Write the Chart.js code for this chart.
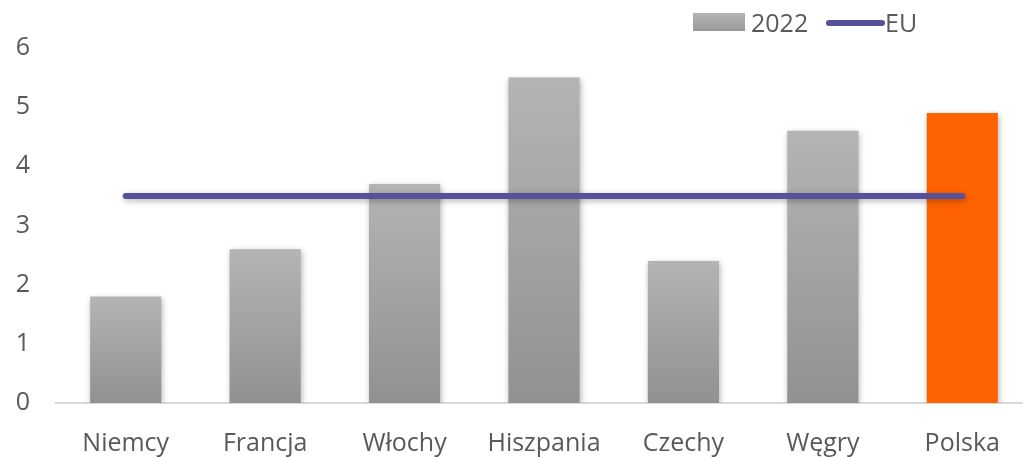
<!DOCTYPE html>
<html>
<head>
<meta charset="utf-8">
<script src="https://cdn.jsdelivr.net/npm/chart.js@4"></script>
<style>
    html, body { margin: 0; padding: 0; background: #ffffff; overflow: hidden; }
    #wrap { width: 1023px; height: 457px; overflow: hidden; }
</style>
</head>
<body>
<div id="wrap"><canvas id="myChart" width="1032" height="457"></canvas></div>
<script>

const countries = ['Niemcy', 'Francja', 'Włochy', 'Hiszpania', 'Czechy', 'Węgry', 'Polska']
const values2022 = [1.8, 2.6, 3.7, 5.5, 2.4, 4.6, 4.9]
const euAverage = [3.5, 3.5, 3.5, 3.5, 3.5, 3.5, 3.5]
const yTicks = [0, 1, 2, 3, 4, 5, 6]

const textColor = '#595959'
const fontFamily = "'Open Sans', 'Noto Sans', sans-serif"
const euColor = '#55519b'
const highlightColor = '#ff6200'

function barColor(context) {
    if (context.type !== 'data') return '#a6a6a6'
    if (countries[context.dataIndex] === 'Polska') return highlightColor
    const chart = context.chart
    if (!chart.chartArea) return '#a6a6a6'
    const y = chart.scales.y
    const top = y.getPixelForValue(context.parsed.y)
    const bottom = y.getPixelForValue(0)
    const gradient = chart.ctx.createLinearGradient(0, top, 0, bottom)
    gradient.addColorStop(0, '#b4b4b4')
    gradient.addColorStop(1, '#919191')
    return gradient
}

// soft drop shadow under bars and the EU line
const shadowPlugin = {
    id: 'shadow',
    beforeDatasetsDraw(chart) {
        const ctx = chart.ctx
        ctx.save()
        ctx.shadowColor = 'rgba(0, 0, 0, 0.3)'
        ctx.shadowBlur = 6
        ctx.shadowOffsetX = 1
        ctx.shadowOffsetY = 2
    },
    afterDatasetsDraw(chart) {
        chart.ctx.restore()
    }
}

// legend drawn by hand at the top right
const legendPlugin = {
    id: 'topLegend',
    afterDraw(chart) {
        const ctx = chart.ctx
        ctx.save()
        const g = ctx.createLinearGradient(0, 13, 0, 31)
        g.addColorStop(0, '#b4b4b4')
        g.addColorStop(1, '#9a9a9a')
        ctx.fillStyle = g
        ctx.fillRect(693, 13, 52, 18)

        ctx.font = '25px ' + fontFamily
        ctx.fillStyle = textColor
        ctx.textBaseline = 'alphabetic'
        ctx.textAlign = 'left'
        ctx.fillText('2022', 751, 32)

        ctx.strokeStyle = euColor
        ctx.lineWidth = 6
        ctx.lineCap = 'round'
        ctx.beginPath()
        ctx.moveTo(829, 23)
        ctx.lineTo(882, 23)
        ctx.stroke()

        ctx.fillText('EU', 885, 32)
        ctx.restore()
    }
}

function createChart() {

    const ctx = document.getElementById('myChart')

    const data = {
        labels: countries,
        datasets: [
            {
                type: 'line',
                label: 'EU',
                data: euAverage,
                borderColor: euColor,
                borderWidth: 6,
                borderCapStyle: 'round',
                pointRadius: 0,
                fill: false,
                order: 0
            },
            {
                type: 'bar',
                label: '2022',
                data: values2022,
                backgroundColor: barColor,
                barPercentage: 0.51,
                categoryPercentage: 1,
                order: 1
            }
        ]
    }

    const config = {
        data: data,
        options: {
            responsive: false,
            animation: false,
            layout: {
                padding: { top: 48, left: 0, right: 0, bottom: 0 }
            },
            plugins: {
                legend: { display: false },
                tooltip: { enabled: false }
            },
            scales: {
                x: {
                    grid: { display: false, drawTicks: false },
                    border: { display: true, color: '#d9d9d9', width: 2 },
                    ticks: {
                        color: textColor,
                        padding: 26,
                        font: { family: fontFamily, size: 25 }
                    },
                    afterFit(scale) { scale.height = 54 }
                },
                y: {
                    min: 0,
                    max: 6,
                    grid: { display: false, drawTicks: false },
                    border: { display: false },
                    afterBuildTicks(scale) {
                        scale.ticks = yTicks.map(v => ({ value: v }))
                    },
                    ticks: {
                        color: textColor,
                        padding: 26,
                        font: { family: fontFamily, size: 25 }
                    },
                    afterFit(scale) { scale.width = 56 }
                }
            }
        },
        plugins: [shadowPlugin, legendPlugin]
    }

    return new Chart(ctx, config)
}

const chart = createChart()
</script>
</body>
</html>
